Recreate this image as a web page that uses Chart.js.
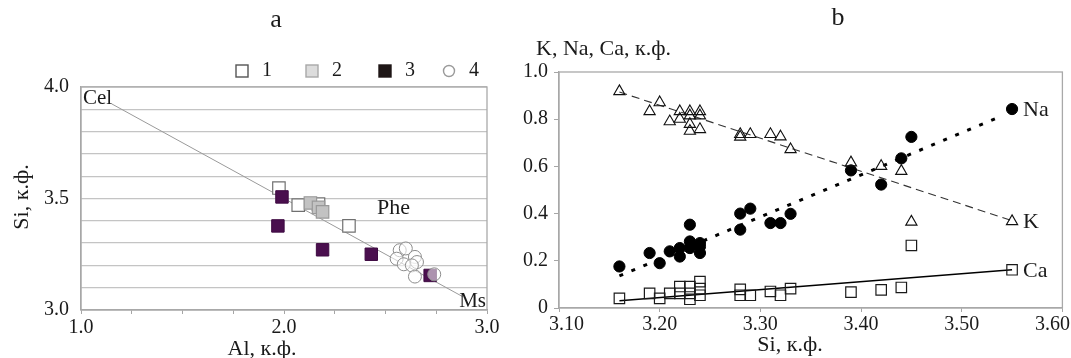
<!DOCTYPE html>
<html>
<head>
<meta charset="utf-8">
<script src="https://cdn.jsdelivr.net/npm/chart.js@4.4.0/dist/chart.umd.min.js"></script>
<style>
  html, body { margin: 0; padding: 0; background: #fff; }
  #wrap { position: relative; width: 1071px; height: 358px; overflow: hidden; background: #fff; }
  #ca { position: absolute; left: 0; top: 0; }
  #cb { position: absolute; left: 500px; top: 0; }
</style>
</head>
<body>
<div id="wrap">
  <canvas id="ca" width="500" height="358" style="width:500px;height:358px"></canvas>
  <canvas id="cb" width="571" height="358" style="width:571px;height:358px"></canvas>
</div>
<script>
// ---- Panel a: Si vs Al (formula units) ----
const alGroup1 = [1.975, 2.07, 2.17, 2.32];
const siGroup1 = [3.547, 3.47, 3.475, 3.377];
const alGroup2 = [2.13, 2.17, 2.19];
const siGroup2 = [3.48, 3.46, 3.44];
const alGroup3 = [1.99, 1.97, 2.19, 2.43, 2.72];
const siGroup3 = [3.507, 3.377, 3.27, 3.25, 3.155];
const alGroup4 = [2.57, 2.60, 2.555, 2.59, 2.645, 2.655, 2.63, 2.645, 2.74];
const siGroup4 = [3.268, 3.276, 3.23, 3.205, 3.238, 3.215, 3.2, 3.15, 3.16];
// celadonite - muscovite join
const joinAl = [1.15, 2.88];
const joinSi = [3.925, 3.06];
const groupNames = ['1', '2', '3', '4'];
const alTicks = [1.0, 2.0, 3.0];
const siTicksA = [3.0, 3.5, 4.0];

// ---- Panel b: K, Na, Ca vs Si ----
const kSi  = [3.16, 3.19, 3.20, 3.21, 3.22, 3.22, 3.23, 3.23, 3.23, 3.23, 3.24, 3.24, 3.24, 3.28, 3.28, 3.29, 3.31, 3.32, 3.33, 3.39, 3.42, 3.44, 3.45, 3.55];
const kVal = [0.918, 0.833, 0.871, 0.790, 0.833, 0.801, 0.833, 0.815, 0.779, 0.750, 0.833, 0.815, 0.757, 0.736, 0.725, 0.736, 0.736, 0.726, 0.672, 0.616, 0.601, 0.580, 0.365, 0.367];
const naSi  = [3.16, 3.19, 3.20, 3.21, 3.22, 3.22, 3.23, 3.23, 3.23, 3.24, 3.24, 3.24, 3.28, 3.28, 3.29, 3.31, 3.32, 3.33, 3.39, 3.42, 3.44, 3.45, 3.55];
const naVal = [0.176, 0.233, 0.190, 0.240, 0.254, 0.218, 0.353, 0.282, 0.254, 0.275, 0.233, 0.260, 0.400, 0.332, 0.421, 0.360, 0.360, 0.399, 0.583, 0.523, 0.634, 0.725, 0.843];
const caSi  = [3.16, 3.19, 3.20, 3.21, 3.22, 3.22, 3.23, 3.23, 3.23, 3.24, 3.24, 3.24, 3.28, 3.28, 3.29, 3.31, 3.32, 3.33, 3.39, 3.42, 3.44, 3.45, 3.55];
const caVal = [0.041, 0.062, 0.041, 0.062, 0.091, 0.062, 0.091, 0.062, 0.037, 0.112, 0.082, 0.054, 0.079, 0.054, 0.054, 0.070, 0.054, 0.082, 0.067, 0.077, 0.087, 0.265, 0.162];
// trend lines (end points)
const kTrendSi = [3.16, 3.55],  kTrend = [0.915, 0.370];
const naTrendSi = [3.16, 3.54], naTrend = [0.136, 0.814];
const caTrendSi = [3.16, 3.55], caTrend = [0.031, 0.162];
const siTicksB = [3.1, 3.2, 3.3, 3.4, 3.5, 3.6];
const elemNames = ['K', 'Na', 'Ca'];

const pts = (xs, ys) => xs.map((x, i) => ({ x, y: ys[i] }));
const near = (a, b) => Math.abs(a - b) < 1e-6;

const SERIF = '"Liberation Serif", "Times New Roman", serif';
Chart.defaults.font.family = SERIF;
Chart.defaults.color = '#1a1a1a';
Chart.defaults.animation = false;
const tickFont = { family: SERIF, size: 20 };

// fix axis box sizes so the plot area sits where it should
function fixWidth(w) {
  return s => { s.width = w; s.paddingTop = 0; s.paddingBottom = 0; s.paddingLeft = 0; s.paddingRight = 0; };
}
function fixHeight(h) {
  return s => { s.height = h; s.paddingTop = 0; s.paddingBottom = 0; s.paddingLeft = 0; s.paddingRight = 0; };
}

const framePlugin = {
  id: 'frame',
  beforeDatasetsDraw(chart, args, opts) {
    const { ctx, chartArea: a } = chart;
    ctx.save();
    ctx.strokeStyle = opts.color || '#a6a6a6';
    ctx.lineWidth = opts.width || 1.3;
    ctx.strokeRect(a.left, a.top, a.right - a.left, a.bottom - a.top);
    ctx.restore();
  }
};

function text(ctx, str, x, y, size, align, baseline, rot) {
  ctx.save();
  ctx.font = `${size}px ${SERIF}`;
  ctx.fillStyle = '#1a1a1a';
  ctx.textAlign = align || 'center';
  ctx.textBaseline = baseline || 'middle';
  ctx.translate(x, y);
  if (rot) ctx.rotate(rot);
  ctx.fillText(str, 0, 0);
  ctx.restore();
}

// ---------- Panel a ----------
const legendStyles = [
  { shape: 'rect', fill: '#ffffff', stroke: '#555555' },
  { shape: 'rect', fill: '#dcdcdc', stroke: '#a8a8a8' },
  { shape: 'rect', fill: '#1e1616', stroke: '#1e1616' },
  { shape: 'circle', fill: '#ffffff', stroke: '#9a9a9a' }
];

const annotA = {
  id: 'annotA',
  afterDraw(chart) {
    const { ctx } = chart;
    const xs = chart.scales.x, ys = chart.scales.y;
    text(ctx, 'a', 276, 20, 26);
    text(ctx, 'Al, к.ф.', 262, 349, 22);
    text(ctx, 'Si, к.ф.', 22, 197, 22, 'center', 'middle', -Math.PI / 2);
    text(ctx, 'Cel', xs.getPixelForValue(1) + 2, ys.getPixelForValue(4) + 1, 21, 'left', 'top');
    text(ctx, 'Phe', xs.getPixelForValue(2.54), ys.getPixelForValue(3.457), 22);
    text(ctx, 'Ms', xs.getPixelForValue(3) - 1, ys.getPixelForValue(3) - 3, 21, 'right', 'alphabetic');

    // legend row
    const markX = [242, 312, 385, 449];
    const ly = 71;
    groupNames.forEach((name, i) => {
      const st = legendStyles[i];
      ctx.save();
      ctx.fillStyle = st.fill;
      ctx.strokeStyle = st.stroke;
      ctx.lineWidth = 1.4;
      if (st.shape === 'rect') {
        ctx.fillRect(markX[i] - 6, ly - 6, 12, 12);
        ctx.strokeRect(markX[i] - 6, ly - 6, 12, 12);
      } else {
        ctx.beginPath();
        ctx.arc(markX[i], ly, 5.5, 0, Math.PI * 2);
        ctx.fill();
        ctx.stroke();
      }
      ctx.restore();
      text(ctx, name, markX[i] + 20, ly, 20, 'left', 'middle');
    });
  }
};

new Chart(document.getElementById('ca'), {
  type: 'scatter',
  data: {
    datasets: [
      { label: '4', data: pts(alGroup4, siGroup4), pointStyle: 'circle', pointRadius: 6.5,
        backgroundColor: 'rgba(255,255,255,0.55)', borderColor: '#8c8c8c', borderWidth: 1, order: 1 },
      { label: '3', data: pts(alGroup3, siGroup3), pointStyle: 'rect', pointRadius: 8.8,
        backgroundColor: '#4a0f4e', borderColor: '#3e0a42', borderWidth: 1, order: 2 },
      { label: '2', data: pts(alGroup2, siGroup2), pointStyle: 'rect', pointRadius: 8.8,
        backgroundColor: '#c2c2c2', borderColor: '#999999', borderWidth: 1.2, order: 3 },
      { label: '1', data: pts(alGroup1, siGroup1), pointStyle: 'rect', pointRadius: 8.8,
        backgroundColor: '#ffffff', borderColor: '#707070', borderWidth: 1.2, order: 4 },
      { label: 'Cel-Ms', data: pts(joinAl, joinSi), showLine: true, pointRadius: 0,
        borderColor: '#9a9a9a', borderWidth: 1, order: 5 }
    ]
  },
  options: {
    responsive: false,
    layout: { padding: { left: 0, top: 87, right: 13, bottom: 0 } },
    plugins: { legend: { display: false }, tooltip: { enabled: false }, frame: { color: '#a9a9a9', width: 1.3 } },
    scales: {
      x: {
        type: 'linear', min: 1, max: 3,
        afterFit: fixHeight(48),
        border: { color: '#a6a6a6', width: 1.3 },
        grid: { drawOnChartArea: false, tickLength: 4, color: '#a6a6a6' },
        ticks: { stepSize: 0.25, autoSkip: false, maxRotation: 0, padding: 2, font: tickFont,
                 callback: v => alTicks.some(t => near(t, v)) ? v.toFixed(1) : '' }
      },
      y: {
        type: 'linear', min: 3, max: 4,
        afterFit: fixWidth(81),
        border: { color: '#a6a6a6', width: 1.3 },
        grid: { color: '#c4c4c4', lineWidth: 1.3, drawTicks: false },
        ticks: { stepSize: 0.1, autoSkip: false, padding: 12, font: tickFont,
                 callback: v => siTicksA.some(t => near(t, v)) ? v.toFixed(1) : '' }
      }
    }
  },
  plugins: [framePlugin, annotA]
});

// ---------- Panel b ----------
const annotB = {
  id: 'annotB',
  afterDraw(chart) {
    const { ctx } = chart;
    const xs = chart.scales.x, ys = chart.scales.y;
    text(ctx, 'b', 338, 18, 26);
    text(ctx, 'K, Na, Ca, к.ф.', 36, 49, 22, 'left', 'middle');
    text(ctx, 'Si, к.ф.', 290, 345, 22);
    const ends = [
      [kSi[kSi.length - 1], kVal[kVal.length - 1]],
      [naSi[naSi.length - 1], naVal[naVal.length - 1]],
      [caSi[caSi.length - 1], caVal[caVal.length - 1]]
    ];
    elemNames.forEach((n, i) => {
      text(ctx, n, xs.getPixelForValue(ends[i][0]) + 11, ys.getPixelForValue(ends[i][1]) + 1, 22, 'left', 'middle');
    });
  }
};

// keep the first and last Si labels pulled in toward the plot
function siLabel(v) {
  if (!siTicksB.some(t => near(t, v))) return '';
  const s = v.toFixed(2);
  if (near(v, siTicksB[0])) return '   ' + s;
  if (near(v, siTicksB[siTicksB.length - 1])) return s + '    ';
  return s;
}

new Chart(document.getElementById('cb'), {
  type: 'scatter',
  data: {
    datasets: [
      { label: 'K', data: pts(kSi, kVal), pointStyle: 'triangle', pointRadius: 6.5,
        backgroundColor: 'rgba(255,255,255,0)', borderColor: '#111111', borderWidth: 1.1, order: 1 },
      { label: 'Na', data: pts(naSi, naVal), pointStyle: 'circle', pointRadius: 5.6,
        backgroundColor: '#000000', borderColor: '#000000', borderWidth: 1, order: 2 },
      { label: 'Ca', data: pts(caSi, caVal), pointStyle: 'rect', pointRadius: 7.4,
        backgroundColor: 'rgba(255,255,255,0)', borderColor: '#1a1a1a', borderWidth: 1.2, order: 3 },
      { label: 'K trend', data: pts(kTrendSi, kTrend), showLine: true, pointRadius: 0,
        borderColor: '#333333', borderWidth: 1.1, borderDash: [8, 5], order: 4 },
      { label: 'Na trend', data: pts(naTrendSi, naTrend), showLine: true, pointRadius: 0,
        borderColor: '#000000', borderWidth: 3, borderDash: [4, 9], order: 5 },
      { label: 'Ca trend', data: pts(caTrendSi, caTrend), showLine: true, pointRadius: 0,
        borderColor: '#000000', borderWidth: 1.6, order: 6 }
    ]
  },
  options: {
    responsive: false,
    layout: { padding: { left: 0, top: 72, right: 3, bottom: 0 } },
    plugins: { legend: { display: false }, tooltip: { enabled: false }, frame: { color: '#a9a9a9', width: 1.3 } },
    scales: {
      x: {
        type: 'linear', min: 3.1, max: 3.6,
        afterFit: fixHeight(50),
        border: { color: '#a6a6a6', width: 1.3 },
        grid: { drawOnChartArea: false, tickLength: 4, color: '#a6a6a6' },
        ticks: { stepSize: 0.1, autoSkip: false, maxRotation: 0, padding: 1, font: tickFont,
                 callback: siLabel }
      },
      y: {
        type: 'linear', min: 0, max: 1,
        afterFit: fixWidth(59),
        border: { color: '#a6a6a6', width: 1.3 },
        grid: { drawOnChartArea: false, tickLength: 5, color: '#a6a6a6' },
        ticks: { stepSize: 0.2, autoSkip: false, padding: 6, font: tickFont,
                 callback: v => near(v, 0) ? '0' : v.toFixed(1) }
      }
    }
  },
  plugins: [framePlugin, annotB]
});
</script>
</body>
</html>
